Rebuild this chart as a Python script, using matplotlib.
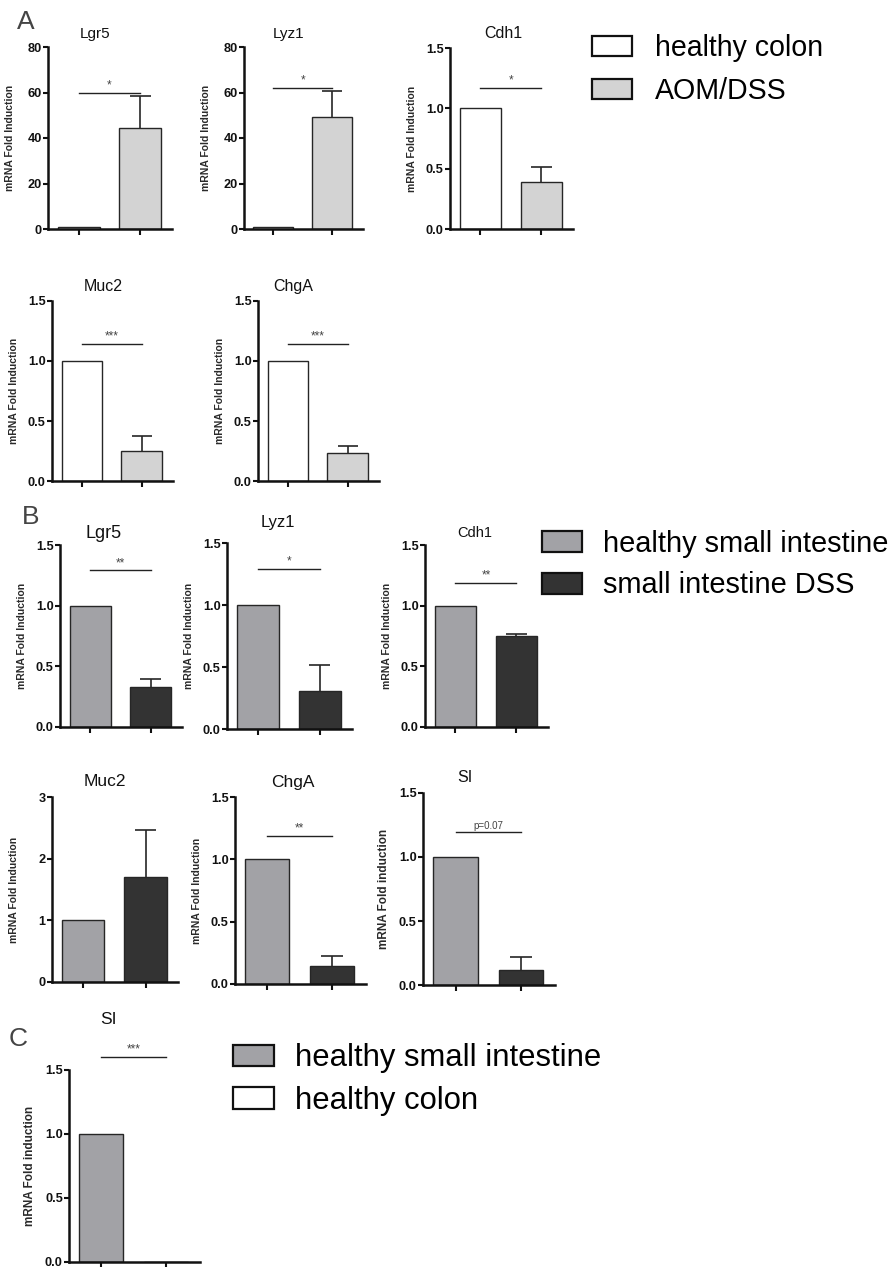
import matplotlib
matplotlib.use("Agg")
import matplotlib.pyplot as plt
from matplotlib.patches import Patch

# ---------------- data ----------------
A_genes = ['Lgr5', 'Lyz1', 'Cdh1', 'Muc2', 'ChgA']
A_healthy = [1.0, 1.0, 1.0, 1.0, 1.0]
A_aomdss = [44.5, 49.2, 0.39, 0.25, 0.23]
A_aomdss_err = [13.8, 11.5, 0.12, 0.125, 0.06]
A_ymax = [80, 80, 1.5, 1.5, 1.5]
A_ystep = [20, 20, 0.5, 0.5, 0.5]
A_sig = ['*', '*', '*', '***', '***']
A_sig_y = [60, 62, 1.17, 1.14, 1.14]
A_series = ['healthy colon', 'AOM/DSS']

B_genes = ['Lgr5', 'Lyz1', 'Cdh1', 'Muc2', 'ChgA', 'SI']
B_healthy = [1.0, 1.0, 1.0, 1.0, 1.0, 1.0]
B_dss = [0.33, 0.31, 0.75, 1.70, 0.145, 0.117]
B_dss_err = [0.065, 0.21, 0.02, 0.77, 0.08, 0.10]
B_ymax = [1.5, 1.5, 1.5, 3, 1.5, 1.5]
B_ystep = [0.5, 0.5, 0.5, 1, 0.5, 0.5]
B_sig = ['**', '*', '**', None, '**', 'p=0.07']
B_sig_y = [1.29, 1.29, 1.19, None, 1.19, 1.195]
B_series = ['healthy small intestine', 'small intestine DSS']

C_genes = ['SI']
C_healthy_si = [1.0]
C_healthy_colon = [0.0]
C_ymax = [1.5]
C_ystep = [0.5]
C_sig = ['***']
C_sig_y = [1.6]
C_series = ['healthy small intestine', 'healthy colon']

# ---------------- style ----------------
W, H = 895, 1267
fig = plt.figure(figsize=(W / 100, H / 100), dpi=100)
FONT = ['Liberation Sans', 'DejaVu Sans']
plt.rcParams['font.family'] = FONT

WHITE = '#ffffff'
LIGHT = '#d3d3d3'
MID = '#a2a2a6'
DARK = '#333333'
EDGE = '#262626'


def px_axes(L, R, T, B):
    return fig.add_axes([L / W, 1 - B / H, (R - L) / W, (B - T) / H])


def fmt(v, step):
    return f"{v:.1f}" if step < 1 else f"{int(round(v))}"


def draw(ax, vals, errs, colors, ymax, ystep, sig, sig_y, ylabel, title,
         title_xy, title_fs, ylab_fs=7.5, ylab_off=33):
    xs = list(range(len(vals)))
    ax.bar(xs, vals, width=0.68, color=colors, edgecolor=EDGE, linewidth=1.0,
           zorder=2)
    for x, v, e in zip(xs, vals, errs):
        if e > 0:
            ax.vlines(x, v, v + e, color=EDGE, linewidth=1.2, zorder=3)
            ax.hlines(v + e, x - 0.17, x + 0.17, color=EDGE, linewidth=1.2,
                      zorder=3)
    ax.set_xlim(-0.5, 1.52)
    ax.set_ylim(0, ymax)
    n = int(round(ymax / ystep))
    ticks = [i * ystep for i in range(n + 1)]
    ax.set_yticks(ticks)
    ax.set_yticklabels([fmt(t, ystep) for t in ticks], fontsize=9.2,
                       fontweight='bold', color='#111111')
    ax.set_xticks(xs)
    ax.set_xticklabels([])
    for s in ['top', 'right']:
        ax.spines[s].set_visible(False)
    for s in ['left', 'bottom']:
        ax.spines[s].set_linewidth(1.8)
        ax.spines[s].set_color('#111111')
    ax.tick_params(axis='y', length=3.5, width=1.5, pad=1, color='#111111')
    ax.tick_params(axis='x', length=4, width=1.5, color='#111111')
    ax.patch.set_alpha(0)
    bbox = ax.get_position()
    ax.set_ylabel(ylabel, fontsize=ylab_fs, fontweight='bold', color='#2a2a2a')
    ax.yaxis.set_label_coords(-ylab_off / (bbox.width * W), 0.5)
    if sig is not None:
        ax.plot([0, 1], [sig_y, sig_y], color='#222222', linewidth=1.0,
                clip_on=False)
        ax.annotate(sig, xy=(0.5, sig_y), xytext=(0, 1),
                    textcoords='offset points', ha='center', va='bottom',
                    fontsize=7 if sig.startswith('p') else 8.5,
                    color='#444444', annotation_clip=False)
    fig.text(title_xy[0] / W, 1 - title_xy[1] / H, title, ha='center',
             va='center', fontsize=title_fs, color='#111111')


# ---------------- Panel A ----------------
A_rects = [(48, 172, 47, 229), (244, 363, 47, 229), (450, 573, 48, 229),
           (52, 173, 301, 481), (258, 379, 301, 481)]
A_titles = [(95, 34), (289, 34), (503, 33), (103, 286), (293, 286)]
A_tfs = [11, 11, 11.5, 11.5, 11.5]
for i, g in enumerate(A_genes):
    ax = px_axes(*A_rects[i])
    draw(ax, [A_healthy[i], A_aomdss[i]], [0, A_aomdss_err[i]],
         [WHITE, LIGHT], A_ymax[i], A_ystep[i], A_sig[i], A_sig_y[i],
         'mRNA Fold Induction', g, A_titles[i], A_tfs[i])

# ---------------- Panel B ----------------
B_rects = [(60, 182, 545, 727), (227, 352, 543, 729), (425, 548, 545, 727),
           (52, 178, 797, 982), (235, 366, 797, 984), (423, 555, 793, 985)]
B_titles = [(104, 533), (278, 522), (475, 533), (105, 782), (293, 783),
            (465, 777)]
B_tfs = [13, 12, 10.5, 12.5, 12.5, 11.5]
B_ylabels = ['mRNA Fold Induction'] * 5 + ['mRNA Fold induction']
B_ylfs = [7.5, 7.5, 7.5, 7.5, 7.5, 8.5]
for i, g in enumerate(B_genes):
    ax = px_axes(*B_rects[i])
    draw(ax, [B_healthy[i], B_dss[i]], [0, B_dss_err[i]],
         [MID, DARK], B_ymax[i], B_ystep[i], B_sig[i], B_sig_y[i],
         B_ylabels[i], g, B_titles[i], B_tfs[i], ylab_fs=B_ylfs[i])

# ---------------- Panel C ----------------
ax = px_axes(69, 200, 1070, 1262)
draw(ax, [C_healthy_si[0], C_healthy_colon[0]], [0, 0], [MID, WHITE],
     C_ymax[0], C_ystep[0], C_sig[0], C_sig_y[0], 'mRNA Fold induction',
     C_genes[0], (108, 1020), 12.5, ylab_fs=8.5)

# ---------------- panel letters ----------------
for letter, (x, y) in zip(['A', 'B', 'C'], [(26, 22), (31, 517), (18, 1039)]):
    fig.text(x / W, 1 - y / H, letter, ha='center', va='center',
             fontsize=19, color='#444444', fontweight='normal')


# ---------------- legends ----------------
def legend(labels, colors, x, baseline, fs_px, hl, hh, pad, pitch):
    fs = fs_px * 0.72
    handles = [Patch(facecolor=c, edgecolor='#111111', linewidth=1.6)
               for c in colors]
    ls = pitch / fs_px - 0.94
    top = baseline - 0.74 * fs_px
    fig.legend(handles, labels, loc='upper left',
               bbox_to_anchor=(x / W, 1 - top / H),
               bbox_transform=fig.transFigure, frameon=False, borderpad=0,
               borderaxespad=0, handlelength=hl, handleheight=hh,
               handletextpad=pad, labelspacing=ls,
               prop={'family': FONT, 'size': fs})


legend(A_series, [WHITE, LIGHT], 592, 55, 28.5, 1.4, 0.7, 0.8, 42)
legend(B_series, [MID, DARK], 542, 551, 29, 1.38, 0.74, 0.72, 41)
legend(C_series, [MID, WHITE], 233, 1066, 31, 1.32, 0.68, 0.68, 42)

fig.savefig('out.png', dpi=100)
